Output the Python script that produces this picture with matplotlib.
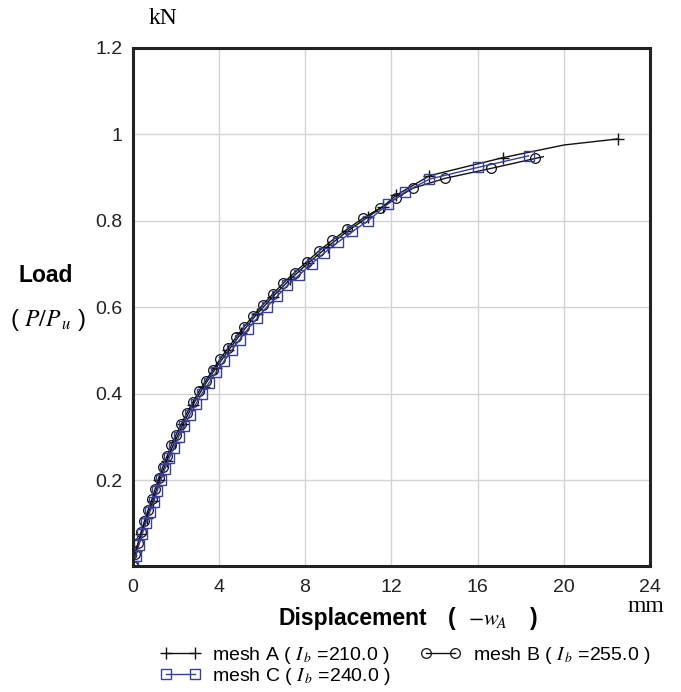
import matplotlib.pyplot as plt
import numpy as np

plt.rcParams['font.family'] = ['Liberation Sans', 'DejaVu Sans']
plt.rcParams['mathtext.fontset'] = 'stix'

# mesh A (+ markers), last-but-one point is a line vertex only
a_x = [0, 0.18, 0.40, 0.65, 0.95, 1.25, 1.58, 1.95, 2.35, 2.80, 3.30, 3.85, 4.45,
       5.05, 5.75, 6.50, 7.30, 8.15, 9.05, 9.95, 10.90, 11.60, 12.23, 13.77,
       17.20, 20.00, 22.50]
a_y = [0, 0.035, 0.075, 0.112, 0.152, 0.200, 0.244, 0.288, 0.330, 0.374, 0.416,
       0.458, 0.500, 0.540, 0.583, 0.624, 0.664, 0.702, 0.740, 0.775, 0.808,
       0.832, 0.859, 0.904, 0.946, 0.975, 0.989]

# mesh B (circles), last point is the end of the line only
b_x = [0, 0.12, 0.26, 0.40, 0.55, 0.72, 0.90, 1.05, 1.22, 1.40, 1.60, 1.80, 2.02,
       2.27, 2.52, 2.80, 3.08, 3.40, 3.73, 4.07, 4.42, 4.80, 5.18, 5.60, 6.03,
       6.50, 6.98, 7.52, 8.08, 8.65, 9.27, 9.95, 10.67, 11.48, 12.23, 13.00,
       14.50, 16.64, 18.68, 19.05]
b_y = [0, 0.028, 0.055, 0.080, 0.105, 0.130, 0.155, 0.180, 0.205, 0.230, 0.255,
       0.280, 0.305, 0.330, 0.355, 0.380, 0.405, 0.430, 0.455, 0.480, 0.505,
       0.530, 0.555, 0.580, 0.605, 0.630, 0.655, 0.680, 0.705, 0.730, 0.755,
       0.780, 0.805, 0.829, 0.852, 0.875, 0.898, 0.921, 0.944, 0.948]

# mesh C (squares)
c_x = [0, 0.15, 0.30, 0.45, 0.62, 0.80, 0.99, 1.15, 1.32, 1.50, 1.70, 1.92, 2.14,
       2.40, 2.65, 2.93, 3.22, 3.55, 3.88, 4.24, 4.60, 4.97, 5.36, 5.79, 6.22,
       6.70, 7.18, 7.74, 8.30, 8.88, 9.52, 10.20, 10.93, 11.83, 12.65, 13.77,
       16.00, 18.37]
c_y = [0, 0.025, 0.050, 0.075, 0.100, 0.125, 0.150, 0.175, 0.200, 0.225, 0.250,
       0.275, 0.300, 0.325, 0.350, 0.375, 0.400, 0.425, 0.450, 0.475, 0.500,
       0.525, 0.550, 0.575, 0.600, 0.625, 0.650, 0.675, 0.700, 0.725, 0.750,
       0.775, 0.800, 0.838, 0.867, 0.896, 0.923, 0.950]

x_ticks = [0, 4, 8, 12, 16, 20, 24]
y_ticks = [0.2, 0.4, 0.6, 0.8, 1.0, 1.2]
y_labels = ['0.2', '0.4', '0.6', '0.8', '1', '1.2']

blue = '#3b3f9c'

fig = plt.figure(figsize=(6.81, 6.92), dpi=100)
ax = fig.add_axes([0.1946, 0.1814, 0.7600, 0.7496])

a_marks = [i for i in range(len(a_x)) if i != len(a_x) - 2]
la, = ax.plot(a_x, a_y, color='#111111', lw=1.0, marker='+', ms=9, mew=1.0,
              markevery=a_marks, label=r'mesh A ( $I_{\,b}$ =210.0 )')
lb, = ax.plot(b_x, b_y, color='#111111', lw=1.0, marker='o', ms=7, mew=0.9,
              mfc='none', markevery=list(range(len(b_x) - 1)),
              label=r'mesh B ( $I_{\,b}$ =255.0 )')
lc, = ax.plot(c_x, c_y, color=blue, lw=1.0, marker='s', ms=6.5, mew=1.0,
              mfc='none', label=r'mesh C ( $I_{\,b}$ =240.0 )')

ax.set_xlim(0, 24)
ax.set_ylim(0, 1.2)
ax.set_xticks(x_ticks)
ax.set_xticklabels([str(t) for t in x_ticks])
ax.set_yticks(y_ticks)
ax.set_yticklabels(y_labels)
ax.tick_params(length=0, labelsize=14, colors='#222222')
ax.tick_params(axis='x', pad=9)
ax.tick_params(axis='y', pad=7)
ax.grid(True, color='#d3d3d6', lw=1.0)
ax.set_axisbelow(True)
for s in ax.spines.values():
    s.set_linewidth(2.2)
    s.set_color('#222222')

fig.text(163 / 681, 1 - 19 / 692, 'kN', family='Liberation Serif', fontsize=17,
         ha='center', va='center')
fig.text(646 / 681, 1 - 606 / 692, 'mm', family='Liberation Serif', fontsize=17,
         ha='center', va='center')
fig.text(46 / 681, 1 - 275 / 692, 'Load', fontsize=16.5, fontweight='bold',
         ha='center', va='center')
fig.text(48 / 681, 1 - 320 / 692, r'( $P/P_{\,u}$ )', fontsize=17,
         ha='center', va='center')
fig.text(279 / 681, 1 - 619 / 692, 'Displacement', fontsize=16.5, fontweight='bold',
         ha='left', va='center')
fig.text(452 / 681, 1 - 619 / 692, '(', fontsize=16.5, fontweight='bold',
         ha='center', va='center')
fig.text(487 / 681, 1 - 619 / 692, r'$-w_{\!A}$', fontsize=16,
         ha='center', va='center')
fig.text(534 / 681, 1 - 619 / 692, ')', fontsize=16.5, fontweight='bold',
         ha='center', va='center')

fig.legend(handles=[la, lc, lb], ncol=2, loc='upper left', frameon=False,
           bbox_to_anchor=(150 / 681, 1 - 635 / 692), fontsize=14,
           handlelength=2.1, handletextpad=0.6, columnspacing=1.5,
           labelspacing=0.0, borderpad=0, numpoints=2)

fig.savefig('out.png', dpi=100, facecolor='white')
